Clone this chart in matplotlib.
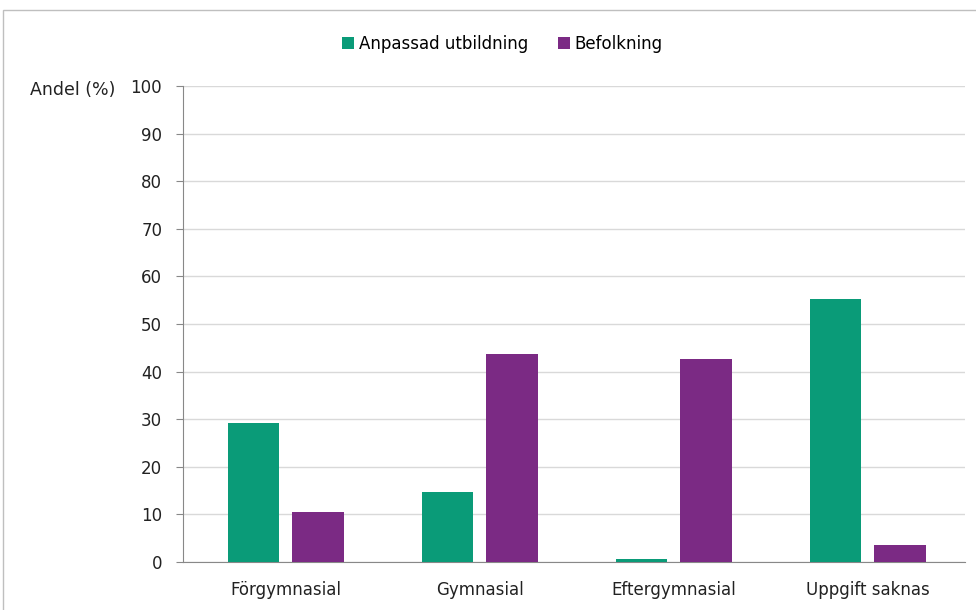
import numpy as np
import matplotlib.pyplot as plt
from matplotlib.patches import Rectangle

categories = ["Förgymnasial", "Gymnasial", "Eftergymnasial", "Uppgift saknas"]
anpassad = [29.2, 14.7, 0.7, 55.2]
befolkning = [10.4, 43.7, 42.6, 3.6]
series_names = ["Anpassad utbildning", "Befolkning"]
yticks = list(range(0, 101, 10))

green = "#0A9B78"
purple = "#7B2A84"

plt.rcParams['font.family'] = ['DejaVu Sans']
fig = plt.figure(figsize=(9.76, 6.10), dpi=100)
ax = fig.add_axes([0.1875, 0.0787, 0.801, 0.7803])

x = np.arange(len(categories))
w = 0.266
off = 0.166
ax.bar(x - off, anpassad, w, color=green, label=series_names[0], zorder=3)
ax.bar(x + off, befolkning, w, color=purple, label=series_names[1], zorder=3)

ax.set_xlim(-0.53, len(categories) - 0.5)
ax.set_ylim(0, 100)
ax.set_yticks(yticks)
ax.set_xticks(x)
ax.set_xticklabels(categories, fontsize=12, color="#222222")
ax.tick_params(axis='y', labelsize=12, colors="#222222", length=5, color="#888888", pad=10)
ax.tick_params(axis='x', length=0, pad=14)
ax.grid(axis='y', color="#D9D9D9", linewidth=1, zorder=0)
for s in ['top', 'right']:
    ax.spines[s].set_visible(False)
ax.spines['left'].set_color("#888888")
ax.spines['bottom'].set_color("#888888")

fig.text(30 / 976, 1 - 90 / 610, "Andel (%)", fontsize=12.5, color="#222222", va='center', ha='left')

fig.legend(loc='center', bbox_to_anchor=(0.515, 1 - 44 / 610), ncol=2, frameon=False,
           fontsize=12, handlelength=0.7, handleheight=0.7, handletextpad=0.3, columnspacing=1.8)

# chart frame
fig.patches.append(Rectangle((3 / 976, -0.01), 1.1, 1 - 10 / 610 + 0.01, transform=fig.transFigure,
                             fill=False, edgecolor="#BFBFBF", linewidth=1))

fig.savefig("out.png", dpi=100)
